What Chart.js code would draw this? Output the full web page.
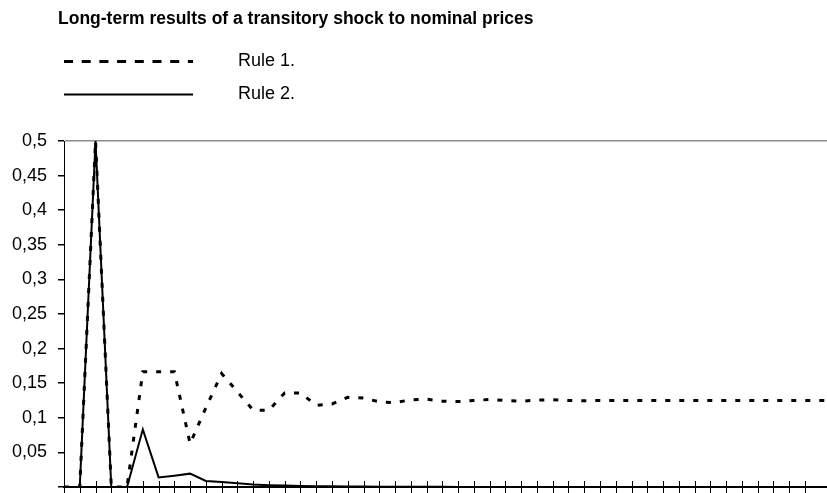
<!DOCTYPE html>
<html>
<head>
<meta charset="utf-8">
<script src="https://cdn.jsdelivr.net/npm/chart.js@4"></script>
<style>
  html, body { margin: 0; padding: 0; background: #fff; }
  #wrap { width: 827px; height: 493px; }
</style>
</head>
<body>
<div id="wrap"><canvas id="c" width="827" height="493"></canvas></div>
<script>
const chartTitle = 'Long-term results of a transitory shock to nominal prices';
const seriesNames = ['Rule 1.', 'Rule 2.'];
const periods = [0,1,2,3,4,5,6,7,8,9,10,11,12,13,14,15,16,17,18,19,20,21,22,23,24,25,26,27,28,29,30,31,32,33,34,35,36,37,38,39,40,41,42,43,44,45,46,47,48,49];
const rule1 = [0,0,0.5,0,0,0.1667,0.1667,0.1667,0.0625,0.1146,0.1641,0.1375,0.111,0.111,0.136,0.136,0.118,0.12,0.1295,0.1285,0.123,0.122,0.126,0.127,0.124,0.1235,0.125,0.1265,0.125,0.124,0.1255,0.126,0.125,0.1245,0.125,0.125,0.125,0.125,0.125,0.125,0.125,0.125,0.125,0.125,0.125,0.125,0.125,0.125,0.125,0.125];
const rule2 = [0,0,0.5,0,0,0.0833,0.0139,0.0164,0.0193,0.0087,0.0072,0.0055,0.0035,0.0025,0.002,0.0015,0.0012,0.001,0.0008,0.0006,0.0005,0.0004,0.0003,0.0002,0.0002,0.0001,0.0001,0,0,0,0,0,0,0,0,0,0,0,0,0,0,0,0,0,0,0,0,0,0,0];
const yTickLabels = ['', '0,05', '0,1', '0,15', '0,2', '0,25', '0,3', '0,35', '0,4', '0,45', '0,5'];

const FONT = "'Liberation Sans', Arial, sans-serif";

function toPoints(vals) { return periods.map((p, i) => ({ x: p, y: vals[i] })); }

// Draws crossing tick marks on the x axis
const crossTicks = {
  id: 'crossTicks',
  afterDatasetsDraw(chart) {
    const xs = chart.scales.x, ca = chart.chartArea, ctx = chart.ctx;
    ctx.save();
    ctx.strokeStyle = '#000';
    ctx.lineWidth = 1;
    ctx.beginPath();
    xs.ticks.forEach(t => {
      const px = Math.round(xs.getPixelForValue(t.value)) + 0.5;
      if (px > ca.right + 1) return;
      ctx.moveTo(px, ca.bottom - 6);
      ctx.lineTo(px, ca.bottom + 6);
    });
    ctx.stroke();
    ctx.restore();
  }
};

// Stacked legend drawn above the plot area from the datasets' own styles
const stackedLegend = {
  id: 'stackedLegend',
  afterDraw(chart, args, opts) {
    const ctx = chart.ctx, ca = chart.chartArea;
    ctx.save();
    ctx.font = opts.font;
    ctx.fillStyle = '#000';
    ctx.textBaseline = 'middle';
    ctx.textAlign = 'left';
    chart.data.datasets.forEach((ds, i) => {
      const y = ca.top + opts.rows[i];
      ctx.beginPath();
      ctx.strokeStyle = ds.borderColor;
      ctx.lineWidth = opts.widths[i];
      ctx.setLineDash(opts.dashes[i]);
      ctx.moveTo(ca.left, y);
      ctx.lineTo(ca.left + opts.sampleWidth, y);
      ctx.stroke();
      ctx.setLineDash([]);
      ctx.fillText(ds.label, ca.left + opts.textOffset, y);
    });
    ctx.restore();
  }
};

new Chart(document.getElementById('c'), {
  type: 'line',
  data: {
    datasets: [
      { label: seriesNames[0], data: toPoints(rule1), borderColor: '#000', borderWidth: 3, borderDash: [5, 9], pointRadius: 0, tension: 0, fill: false },
      { label: seriesNames[1], data: toPoints(rule2), borderColor: '#000', borderWidth: 2, pointRadius: 0, tension: 0, fill: false }
    ]
  },
  options: {
    responsive: false,
    animation: false,
    layout: { padding: { left: 58, right: 0, top: 0, bottom: 6 } },
    plugins: {
      legend: { display: false },
      tooltip: { enabled: false },
      title: {
        display: true,
        text: chartTitle,
        align: 'start',
        color: '#000',
        font: { family: FONT, size: 17.5, weight: 'bold', lineHeight: 1.2 },
        padding: { top: 9, bottom: 111 }
      },
      stackedLegend: {
        font: "18px " + FONT,
        rows: [-79.5, -46.5],
        widths: [3, 2],
        dashes: [[9, 8.7], []],
        sampleWidth: 129,
        textOffset: 174
      }
    },
    scales: {
      x: {
        type: 'linear',
        min: 0,
        max: 48.4,
        ticks: { display: false, stepSize: 1 },
        grid: { display: false },
        border: { display: true, color: '#000', width: 2 },
        afterFit: s => { s.height = 0; s.paddingLeft = 0; s.paddingRight = 0; }
      },
      y: {
        min: 0,
        max: 0.5,
        ticks: {
          stepSize: 0.05,
          color: '#000',
          padding: 11,
          font: { family: FONT, size: 18 },
          callback: (v, i) => yTickLabels[i]
        },
        grid: {
          drawTicks: true,
          tickLength: 6,
          tickColor: '#000',
          color: ctx => (ctx.tick && Math.abs(ctx.tick.value - 0.5) < 1e-9) ? '#8c8c8c' : 'rgba(0,0,0,0)',
          lineWidth: 1.5
        },
        border: { display: true, color: '#000', width: 1 },
        afterFit: s => {
          s.width = 6;
          s.paddingTop = 0;
          s.paddingBottom = 0;
          s._computeLabelArea = () => undefined;
        }
      }
    }
  },
  plugins: [crossTicks, stackedLegend]
});
</script>
</body>
</html>
